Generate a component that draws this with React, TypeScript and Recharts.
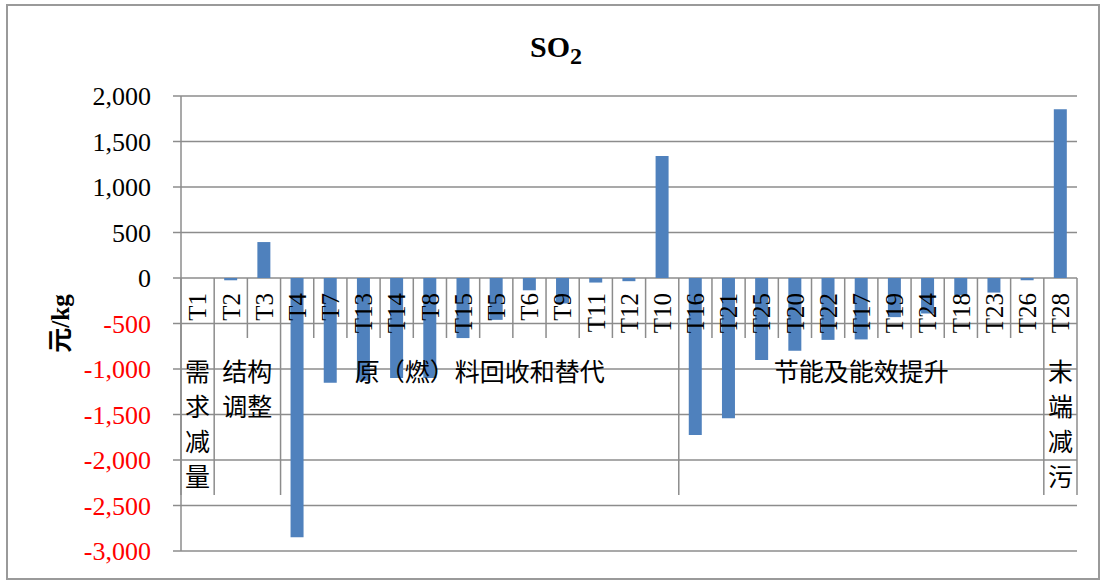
import { BarChart, Bar, XAxis, YAxis, CartesianGrid, Label } from 'recharts'

const categories = ['T1', 'T2', 'T3', 'T4', 'T7', 'T13', 'T14', 'T8', 'T15', 'T5', 'T6', 'T9', 'T11', 'T12', 'T10',
  'T16', 'T21', 'T25', 'T20', 'T22', 'T17', 'T19', 'T24', 'T18', 'T23', 'T26', 'T28']
const so2Cost = [0, -25, 395, -2850, -1150, -1130, -1100, -1100, -660, -460, -135, -280, -50, -35, 1340,
  -1725, -1540, -900, -800, -680, -675, -430, -390, -190, -160, -25, 1855]
const groupNames = ['需求减量', '结构调整', '原（燃）料回收和替代', '节能及能效提升', '末端减污']
const groupSizes = [1, 2, 12, 11, 1]
const yTicks = [-3000, -2500, -2000, -1500, -1000, -500, 0, 500, 1000, 1500, 2000]

const data = categories.map((name, i) => ({ name, value: so2Cost[i] }))

// layout
const W = 1102
const H = 581
const PLOT_LEFT = 181
const PLOT_RIGHT = 1077
const PLOT_TOP = 96
const PLOT_BOTTOM = 551
const X_AXIS_H = 10
const Y_MIN = -3000
const Y_MAX = 2000
const BAND = (PLOT_RIGHT - PLOT_LEFT) / categories.length
const ZERO_Y = PLOT_TOP + (Y_MAX / (Y_MAX - Y_MIN)) * (PLOT_BOTTOM - PLOT_TOP)

const FONT = 'Liberation Serif, Noto Sans CJK SC, serif'
const CJK = 'Noto Sans CJK SC, Liberation Serif, serif'
const GRID = '#8c8c8c'

const groupStart: Record<number, number> = {}
let acc = 0
groupSizes.forEach((n, g) => { groupStart[acc] = g; acc += n })

function fmt(v: number) {
  return v.toLocaleString('en-US')
}

function renderYTick(props: any) {
  const { x, y, payload } = props
  const v = payload.value
  return (
    <text x={x} y={y} dy="0.35em" textAnchor="end" style={{ fontFamily: FONT, fontSize: 26 }}
      fill={v < 0 ? '#ff0000' : '#000'}>{fmt(v)}</text>
  )
}

function groupLabel(g: number, left: number) {
  const name = groupNames[g]
  const size = groupSizes[g]
  const cx = left + (size * BAND) / 2
  const y0 = ZERO_Y + 94
  let lines: string[]
  if (size === 1) lines = name.split('')
  else if (size === 2) lines = [name.slice(0, 2), name.slice(2)]
  else lines = [name]
  return lines.map((ln, k) => (
    <text key={'g' + k} x={cx} y={y0 + k * 35} dy="0.36em" textAnchor="middle"
      style={{ fontFamily: CJK, fontSize: 25 }} fill="#000">{ln}</text>
  ))
}

function renderCatTick(props: any) {
  const { x, payload, index } = props
  const i = payload.index ?? index
  const left = x - BAND / 2
  const isGroup = groupStart[i] !== undefined
  const ty = ZERO_Y + 15
  return (
    <g key={'c' + i}>
      <line x1={left} x2={left} y1={ZERO_Y} y2={ZERO_Y + (isGroup ? 217 : 60)} stroke={GRID} strokeWidth={1.5} />
      {i === categories.length - 1 && (
        <line x1={left + BAND} x2={left + BAND} y1={ZERO_Y} y2={ZERO_Y + 217} stroke={GRID} strokeWidth={1.5} />
      )}
      <text x={x} y={ty} dy="0.35em" textAnchor="end" style={{ fontFamily: FONT, fontSize: 25 }} fill="#000"
        transform={`rotate(-90, ${x}, ${ty})`}>{payload.value}</text>
      {isGroup && groupLabel(groupStart[i], left)}
    </g>
  )
}

function YLabel(props: any) {
  const vb = props.viewBox || { x: 0, y: PLOT_TOP, height: PLOT_BOTTOM - PLOT_TOP }
  const cx = vb.x + 60
  const cy = vb.y + vb.height / 2
  return (
    <text x={cx} y={cy} dy="0.35em" textAnchor="middle" style={{ fontFamily: FONT, fontSize: 25, fontWeight: 'bold' }}
      fill="#000" transform={`rotate(-90, ${cx}, ${cy})`}>元/kg</text>
  )
}

export default function App() {
  return (
    <div style={{ position: 'absolute', left: 0, top: 0, width: W, height: H, background: '#fff' }}>
      <div style={{ position: 'absolute', left: 6, top: 4, width: 1094, height: 576, border: '2px solid #9a9a9a', boxSizing: 'border-box' }} />
      <svg style={{ position: 'absolute', left: 0, top: 0 }} width={W} height={80}>
        <text x={556} y={57} textAnchor="middle" style={{ fontFamily: FONT, fontWeight: 'bold', fontSize: 30 }} fill="#000">
          SO<tspan style={{ fontSize: 24 }} dy={7}>2</tspan>
        </text>
      </svg>
      <div style={{ position: 'absolute', left: 0, top: 0 }}>
        <BarChart width={W} height={H} data={data}
          margin={{ top: PLOT_TOP, right: W - PLOT_RIGHT, bottom: H - PLOT_BOTTOM - X_AXIS_H, left: 0 }}>
          <CartesianGrid vertical={false} stroke={GRID} strokeWidth={1.5} />
          <Bar dataKey="value" fill="#4f81bd" barSize={13} isAnimationActive={false} />
          <XAxis dataKey="name" height={X_AXIS_H} interval={0} axisLine={false} tickLine={false} tick={renderCatTick} />
          <YAxis width={PLOT_LEFT} domain={[Y_MIN, Y_MAX]} ticks={yTicks} interval={0}
            tickSize={8} tickMargin={22} axisLine={{ stroke: GRID, strokeWidth: 1.5 }}
            tickLine={{ stroke: GRID, strokeWidth: 1.5 }} tick={renderYTick}>
            <Label content={<YLabel />} position="insideLeft" />
          </YAxis>
        </BarChart>
      </div>
    </div>
  )
}
